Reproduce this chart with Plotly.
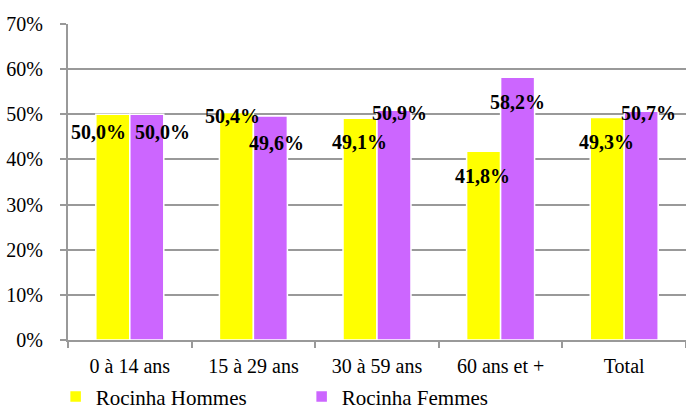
import plotly.graph_objects as go

categories = ["0 à 14 ans", "15 à 29 ans", "30 à 59 ans", "60 ans et +", "Total"]
hommes = [50.0, 50.4, 49.1, 41.8, 49.3]
femmes = [50.0, 49.6, 50.9, 58.2, 50.7]
y_ticks = [0, 10, 20, 30, 40, 50, 60, 70]

font_family = "Liberation Serif"
tick_font = dict(family=font_family, size=20, color="black")

fig = go.Figure()
fig.add_trace(go.Bar(x=categories, y=hommes, name="Rocinha Hommes",
                     marker=dict(color="#FFFF00", line=dict(color="white", width=1.5))))
fig.add_trace(go.Bar(x=categories, y=femmes, name="Rocinha Femmes",
                     marker=dict(color="#CC66FF", line=dict(color="white", width=1.5))))

# data labels, Excel-style placement (shift in px from bar top / bar centre)
h_shift = [(-13, -18), (-3, -4), (0, -24), (0, -25), (0, -25)]
f_shift = [(16, -18), (6, -27), (5, -3), (0, -25), (7, -2)]

def fmt(v):
    return f"{v:.1f}".replace(".", ",") + "%"

for i, cat in enumerate(categories):
    for vals, shifts, off in ((hommes, h_shift, -18), (femmes, f_shift, 17)):
        dx, dy = shifts[i]
        fig.add_annotation(x=cat, y=vals[i], xref="x", yref="y",
                           text=f"<b>{fmt(vals[i])}</b>", showarrow=False,
                           xshift=off + dx, yshift=dy,
                           font=dict(family=font_family, size=20, color="black"))

fig.update_layout(
    width=686, height=410,
    margin=dict(l=68, r=0, t=24, b=70, autoexpand=False),
    plot_bgcolor="white", paper_bgcolor="white",
    barmode="group", bargap=0.45, bargroupgap=0.0,
    font=dict(family=font_family, size=20, color="black"),
    showlegend=True,
    legend=dict(orientation="h", x=-0.02, xanchor="left", y=-0.18, yanchor="middle",
                entrywidth=201, entrywidthmode="pixels",
                font=dict(family=font_family, size=21, color="black")),
)

fig.update_yaxes(range=[0, 70], tickvals=y_ticks, ticktext=[f"{t}%" for t in y_ticks],
                 tickfont=tick_font,
                 showgrid=True, gridcolor="#999999", gridwidth=1.5,
                 showline=True, linecolor="#999999", linewidth=2,
                 ticks="outside", ticklen=6, tickcolor="#999999", tickwidth=2,
                 ticklabelstandoff=13, zeroline=False, automargin=False)
fig.update_xaxes(tickfont=tick_font, showline=True, linecolor="#999999", linewidth=2,
                 ticks="outside", tickson="boundaries", ticklen=6,
                 tickcolor="#999999", tickwidth=2, ticklabelstandoff=7,
                 automargin=False)

fig.write_html("out.html", config={"displayModeBar": False},
               post_script="document.body.style.margin='0';")
